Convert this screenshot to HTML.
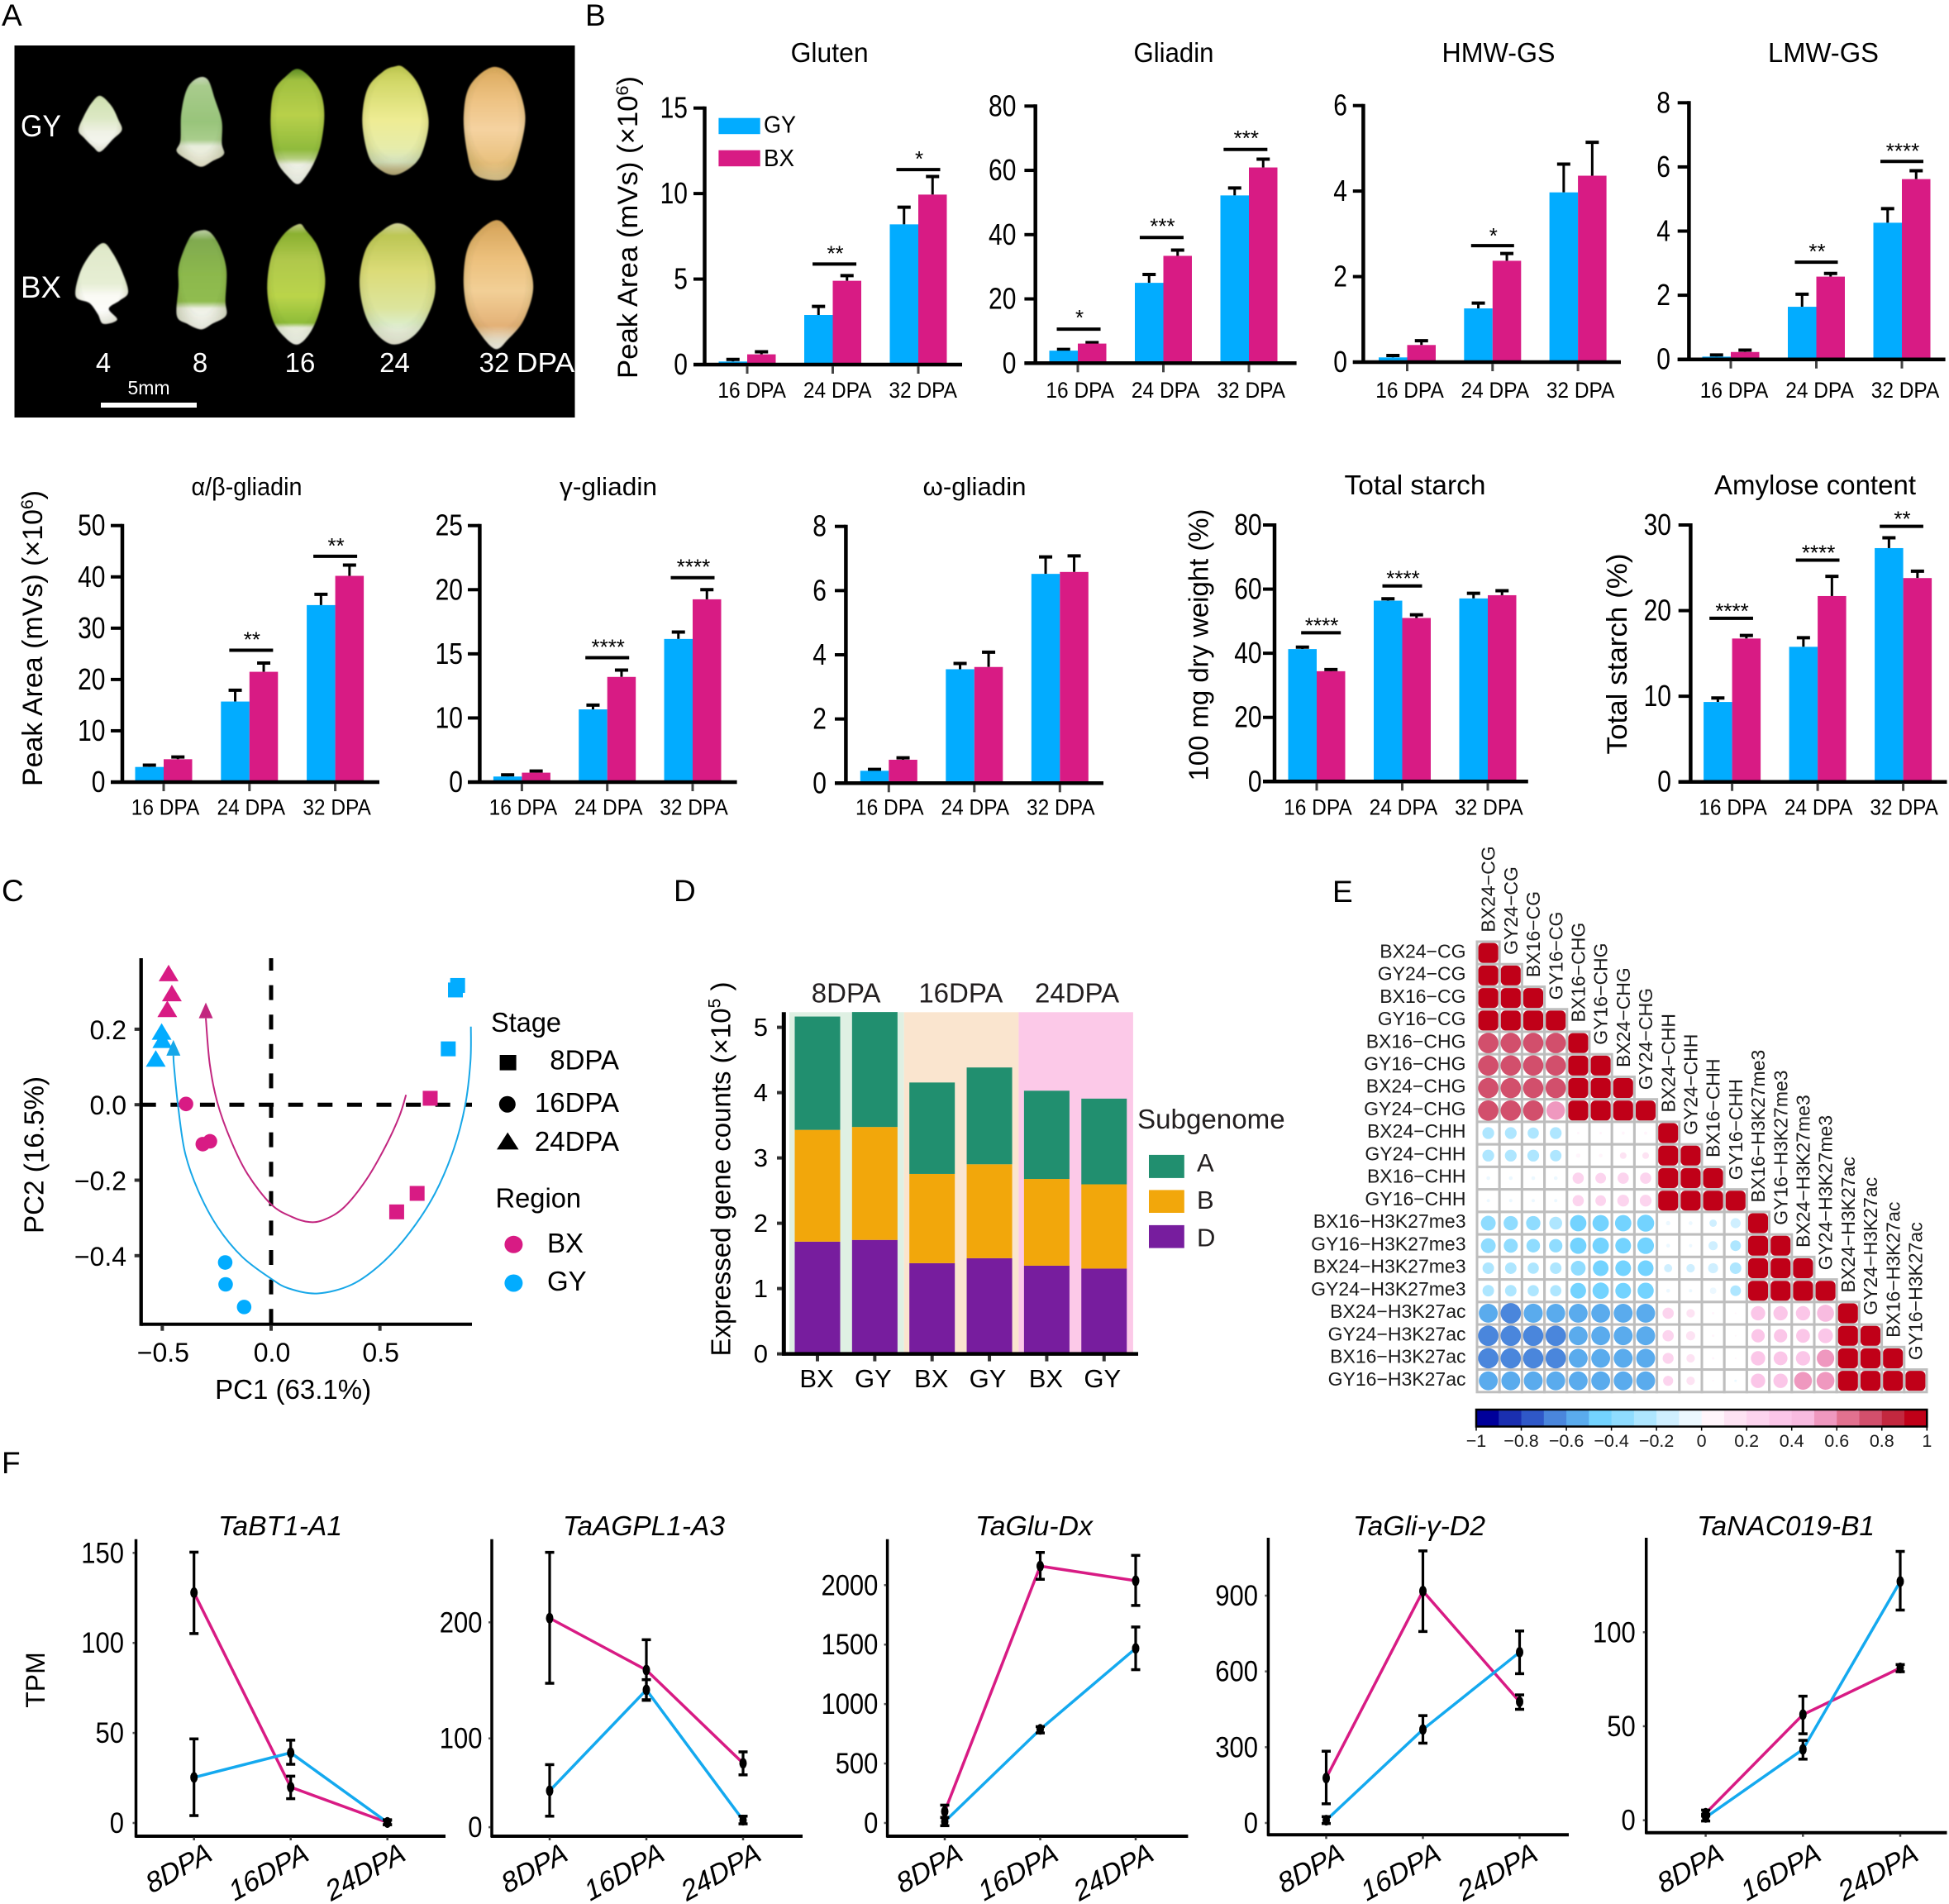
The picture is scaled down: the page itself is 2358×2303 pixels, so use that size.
<!DOCTYPE html>
<html lang="en">
<head>
<meta charset="utf-8">
<title>Wheat grain development multi-panel figure</title>
<style>
html,body{margin:0;padding:0;background:#fff;}
svg{display:block;font-family:"Liberation Sans",sans-serif;}
</style>
</head>
<body>
<svg id="figure" width="2358" height="2303" viewBox="0 0 2358 2303">
  <rect x="0" y="0" width="2358" height="2303" fill="#fff"/>

  <g font-size="37" fill="#000">
    <text x="2" y="31">A</text>
    <text x="708" y="31">B</text>
    <text x="2" y="1090">C</text>
    <text x="815" y="1090">D</text>
    <text x="1612" y="1091">E</text>
    <text x="2" y="1782">F</text>
  </g>

  <rect x="17.5" y="55" width="678" height="450" fill="#000"/>
  <g id="grains"></g>
  <g fill="#fff" font-size="35">
    <text transform="translate(25,165) scale(1,1.05)" textLength="49" lengthAdjust="spacingAndGlyphs">GY</text>
    <text transform="translate(25,360) scale(1,1.05)" textLength="49" lengthAdjust="spacingAndGlyphs">BX</text>
    <text x="125" y="450" text-anchor="middle" font-size="33">4</text>
    <text x="242" y="450" text-anchor="middle" font-size="33">8</text>
    <text x="363" y="450" text-anchor="middle" font-size="33">16</text>
    <text x="477.5" y="450" text-anchor="middle" font-size="33">24</text>
    <text x="598" y="450" text-anchor="middle" font-size="33">32</text>
    <text x="625" y="450" font-size="33" textLength="70" lengthAdjust="spacingAndGlyphs">DPA</text>
    <text x="180" y="477" text-anchor="middle" font-size="23">5mm</text>
    <rect x="122" y="487" width="116" height="6"/>
  </g>

  <g font-size="33" text-anchor="middle">
    <text x="1003.6" y="75" textLength="94" lengthAdjust="spacingAndGlyphs">Gluten</text>
    <text x="1420" y="75" textLength="97" lengthAdjust="spacingAndGlyphs">Gliadin</text>
    <text x="1813" y="75" textLength="137" lengthAdjust="spacingAndGlyphs">HMW-GS</text>
    <text x="2206" y="75" textLength="134" lengthAdjust="spacingAndGlyphs">LMW-GS</text>
    <text x="298.5" y="599" font-size="31" textLength="134" lengthAdjust="spacingAndGlyphs">α/β-gliadin</text>
    <text x="736" y="599" font-size="31" textLength="118" lengthAdjust="spacingAndGlyphs">γ-gliadin</text>
    <text x="1179" y="599" font-size="31" textLength="125" lengthAdjust="spacingAndGlyphs">ω-gliadin</text>
    <text x="1712" y="598" textLength="171" lengthAdjust="spacingAndGlyphs">Total starch</text>
    <text x="2196" y="598" textLength="244" lengthAdjust="spacingAndGlyphs">Amylose content</text>
  </g>

  <text transform="translate(771,275) rotate(-90)" text-anchor="middle" font-size="34" textLength="366" lengthAdjust="spacingAndGlyphs">Peak Area (mVs) (×10<tspan dy="-11" font-size="21">6</tspan><tspan dy="11">)</tspan></text>
  <text transform="translate(51,772) rotate(-90)" text-anchor="middle" font-size="34" textLength="358" lengthAdjust="spacingAndGlyphs">Peak Area (mVs) (×10<tspan dy="-11" font-size="21">6</tspan><tspan dy="11">)</tspan></text>
  <text transform="translate(1461.6,780) rotate(-90)" text-anchor="middle" font-size="33" textLength="329" lengthAdjust="spacingAndGlyphs">100 mg dry weight (%)</text>
  <text transform="translate(1968,791) rotate(-90)" text-anchor="middle" font-size="34" textLength="243" lengthAdjust="spacingAndGlyphs">Total starch (%)</text>

  <g>
    <rect x="869.4" y="142.7" width="50.3" height="19.5" fill="#02acff"/>
    <text x="924" y="160.7" font-size="29" textLength="39" lengthAdjust="spacingAndGlyphs">GY</text>
    <rect x="869.4" y="181.7" width="50.3" height="19.5" fill="#d81b84"/>
    <text x="924" y="201" font-size="29" textLength="37" lengthAdjust="spacingAndGlyphs">BX</text>
  </g>

  <g font-size="33">
    <text x="354.6" y="1692" text-anchor="middle" textLength="189" lengthAdjust="spacingAndGlyphs">PC1 (63.1%)</text>
    <text transform="translate(52.5,1397) rotate(-90)" text-anchor="middle" textLength="190" lengthAdjust="spacingAndGlyphs">PC2 (16.5%)</text>
    <text x="594" y="1248" textLength="85" lengthAdjust="spacingAndGlyphs">Stage</text>
    <text x="749" y="1293.7" text-anchor="end">8DPA</text>
    <text x="749" y="1345" text-anchor="end">16DPA</text>
    <text x="749" y="1392" text-anchor="end">24DPA</text>
    <text x="599.5" y="1460.6" textLength="103.6" lengthAdjust="spacingAndGlyphs">Region</text>
    <text x="662" y="1515">BX</text>
    <text x="662" y="1561">GY</text>
    <rect x="604.6" y="1276" width="20" height="18.6" fill="#000"/>
    <ellipse cx="613.8" cy="1335.7" rx="10" ry="10" fill="#000"/>
    <polygon points="601,1390.4 627.5,1390.4 614.2,1369.6" fill="#000"/>
    <ellipse cx="621.4" cy="1505.3" rx="11" ry="10.5" fill="#d81b84"/>
    <ellipse cx="621.4" cy="1552" rx="11" ry="10.5" fill="#02acff"/>
  </g>

  <g font-size="33">
    <text transform="translate(883.6,1414) rotate(-90)" text-anchor="middle" textLength="453" lengthAdjust="spacingAndGlyphs">Expressed gene counts (×10<tspan dy="-12" font-size="21">5</tspan><tspan dy="12"> )</tspan></text>
    <text x="1376" y="1365" fill="#231f20" textLength="178.7" lengthAdjust="spacingAndGlyphs">Subgenome</text>
    <rect x="1390" y="1396.9" width="42.8" height="28" fill="#218f6f"/>
    <rect x="1390" y="1439.4" width="42.8" height="27.6" fill="#f2a70b"/>
    <rect x="1390" y="1481.9" width="42.8" height="27.7" fill="#771d9e"/>
    <text x="1448" y="1417" font-size="31" fill="#231f20">A</text>
    <text x="1448" y="1462" font-size="31" fill="#231f20">B</text>
    <text x="1448" y="1507.5" font-size="31" fill="#231f20">D</text>
  </g>

  <g font-size="33" font-style="italic" text-anchor="middle">
    <text x="339" y="1857" textLength="150" lengthAdjust="spacingAndGlyphs">TaBT1-A1</text>
    <text x="779" y="1857" textLength="196" lengthAdjust="spacingAndGlyphs">TaAGPL1-A3</text>
    <text x="1251" y="1857" textLength="142" lengthAdjust="spacingAndGlyphs">TaGlu-Dx</text>
    <text x="1717" y="1857" textLength="160" lengthAdjust="spacingAndGlyphs">TaGli-γ-D2</text>
    <text x="2160.6" y="1857" textLength="215" lengthAdjust="spacingAndGlyphs">TaNAC019-B1</text>
    <text transform="translate(54,2032) rotate(-90)" font-style="normal" font-size="32">TPM</text>
  </g>

<script>
/* ---------- shared helpers ---------- */
const root = document.getElementById('figure');
const NS = root.namespaceURI;
function mk(tag, attrs, parent, text) {
  const el = document.createElementNS(NS, tag);
  for (const k in attrs) el.setAttribute(k, attrs[k]);
  if (text !== undefined) el.textContent = text;
  (parent || root).appendChild(el);
  return el;
}
const GY_COLOR = '#02acff';
const BX_COLOR = '#d81b84';

/* ---------- panel B data ---------- */
const barCategories = ['16 DPA', '24 DPA', '32 DPA'];

const glutenTicks = [0, 5, 10, 15];
const glutenGY = [0.18, 2.9, 8.2];
const glutenGYTop = [0.3, 3.4, 9.2];
const glutenBX = [0.6, 4.9, 9.94];
const glutenBXTop = [0.75, 5.2, 11];
const glutenSig = [{group: 1.02, level: 5.88, stars: '**'}, {group: 2, level: 11.4, stars: '*'}];

const gliadinTicks = [0, 20, 40, 60, 80];
const gliadinGY = [3.9, 25, 52.2];
const gliadinGYTop = [4.3, 27.6, 54.5];
const gliadinBX = [6.1, 33.4, 60.9];
const gliadinBXTop = [6.4, 35.2, 63.5];
const gliadinSig = [{group: 0.01, level: 10.6, stars: '*'}, {group: 0.98, level: 39.1, stars: '***'}, {group: 1.96, level: 66.5, stars: '***'}];

const hmwTicks = [0, 2, 4, 6];
const hmwGY = [0.11, 1.256, 3.97];
const hmwGYTop = [0.155, 1.38, 4.63];
const hmwBX = [0.4, 2.37, 4.36];
const hmwBXTop = [0.5, 2.54, 5.14];
const hmwSig = [{group: 1, level: 2.725, stars: '*'}];

const lmwTicks = [0, 2, 4, 6, 8];
const lmwGY = [0.086, 1.64, 4.26];
const lmwGYTop = [0.137, 2.03, 4.7];
const lmwBX = [0.23, 2.58, 5.62];
const lmwBXTop = [0.29, 2.68, 5.88];
const lmwSig = [{group: 1, level: 3.03, stars: '**'}, {group: 2, level: 6.17, stars: '****'}];

const alphaTicks = [0, 10, 20, 30, 40, 50];
const alphaGY = [2.95, 15.7, 34.5];
const alphaGYTop = [3.3, 17.9, 36.6];
const alphaBX = [4.46, 21.5, 40.2];
const alphaBXTop = [4.9, 23.2, 42.3];
const alphaSig = [{group: 1.02, level: 25.7, stars: '**'}, {group: 2, level: 44, stars: '**'}];

const gammaTicks = [0, 10, 15, 20, 25];
const gammaGY = [0.87, 10.67, 16.16];
const gammaGYTop = [1.13, 11, 16.7];
const gammaBX = [1.47, 13.2, 19.25];
const gammaBXTop = [1.73, 13.73, 20];
const gammaSig = [{group: 1, level: 14.7, stars: '****'}, {group: 2, level: 20.94, stars: '****'}];

const omegaTicks = [0, 2, 4, 6, 8];
const omegaGY = [0.386, 3.55, 6.52];
const omegaGYTop = [0.43, 3.73, 7.05];
const omegaBX = [0.73, 3.62, 6.58];
const omegaBXTop = [0.79, 4.08, 7.08];
const omegaSig = [];

const starchTicks = [0, 20, 40, 60, 80];
const starchGY = [41.3, 56.4, 57.1];
const starchGYTop = [41.9, 57, 58.7];
const starchBX = [34.4, 51, 58.1];
const starchBXTop = [34.9, 52, 59.5];
const starchSig = [{group: 0.05, level: 46.4, stars: '****'}, {group: 1, level: 61, stars: '****'}];

const amyloseTicks = [0, 10, 20, 30];
const amyloseGY = [9.33, 15.77, 27.3];
const amyloseGYTop = [9.8, 16.83, 28.5];
const amyloseBX = [16.74, 21.7, 23.8];
const amyloseBXTop = [17.1, 24, 24.6];
const amyloseSig = [{group: -0.01, level: 19.1, stars: '****'}, {group: 1, level: 25.9, stars: '****'}, {group: 1.98, level: 29.84, stars: '**'}];

/* ---------- panel C data ---------- */
const pcaXTicks = [-0.5, 0, 0.5];
const pcaYTicks = [-0.4, -0.2, 0, 0.2];
const bxTriangleX = [-0.471, -0.456, -0.477];
const bxTriangleY = [0.349, 0.296, 0.254];
const gyTriangleX = [-0.503, -0.5, -0.53];
const gyTriangleY = [0.194, 0.172, 0.1227];
const bxCircleX = [-0.391, -0.314, -0.281];
const bxCircleY = [0.002, -0.1045, -0.097];
const gyCircleX = [-0.211, -0.209, -0.124];
const gyCircleY = [-0.418, -0.476, -0.536];
const bxSquareX = [0.731, 0.671, 0.577];
const bxSquareY = [0.017, -0.235, -0.284];
const gySquareX = [0.857, 0.847, 0.814];
const gySquareY = [0.316, 0.304, 0.148];
const bxCurveX = [0.62, 0.589, 0.525, 0.437, 0.335, 0.247, 0.177, 0.095, 0, -0.108, -0.184, -0.247, -0.282, -0.3];
const bxCurveY = [0.026, -0.031, -0.111, -0.199, -0.272, -0.304, -0.311, -0.297, -0.264, -0.184, -0.096, 0.006, 0.108, 0.229];
const gyCurveX = [0.918, 0.916, 0.892, 0.839, 0.753, 0.639, 0.513, 0.373, 0.215, 0.082, 0, -0.133, -0.247, -0.335, -0.396, -0.428, -0.446, -0.449];
const gyCurveY = [0.207, 0.115, -0.001, -0.118, -0.235, -0.337, -0.418, -0.476, -0.5, -0.487, -0.461, -0.403, -0.323, -0.228, -0.126, -0.001, 0.101, 0.13];

/* ---------- panel D data ---------- */
const stackCategories = ['BX', 'GY', 'BX', 'GY', 'BX', 'GY'];
const stackStages = ['8DPA', '16DPA', '24DPA'];
const stackTicks = [0, 1, 2, 3, 4, 5];
const subgenomeD = [1.718, 1.745, 1.389, 1.465, 1.35, 1.306];
const subgenomeB = [1.712, 1.729, 1.366, 1.438, 1.328, 1.29];
const subgenomeA = [1.735, 1.76, 1.4, 1.482, 1.351, 1.312];

/* ---------- panel E data ---------- */
const corrLabels = ['BX24−CG', 'GY24−CG', 'BX16−CG', 'GY16−CG', 'BX16−CHG', 'GY16−CHG', 'BX24−CHG', 'GY24−CHG', 'BX24−CHH', 'GY24−CHH', 'BX16−CHH', 'GY16−CHH', 'BX16−H3K27me3', 'GY16−H3K27me3', 'BX24−H3K27me3', 'GY24−H3K27me3', 'BX24−H3K27ac', 'GY24−H3K27ac', 'BX16−H3K27ac', 'GY16−H3K27ac'];
const corrRows = [
  [1],
  [1, 1],
  [1, 1, 1],
  [1, 1, 1, 1],
  [0.72, 0.72, 0.72, 0.71, 1],
  [0.72, 0.72, 0.72, 0.71, 1, 1],
  [0.72, 0.72, 0.72, 0.71, 1, 1, 1],
  [0.72, 0.72, 0.72, 0.55, 1, 1, 1, 1],
  [-0.26, -0.26, -0.24, -0.26, 0.02, 0.02, 0.03, 0.03, 1],
  [-0.26, -0.26, -0.26, -0.25, 0.05, 0.04, 0.1, 0.1, 1, 1],
  [-0.04, -0.04, -0.04, -0.04, 0.24, 0.22, 0.24, 0.24, 1, 1, 1],
  [-0.03, -0.03, -0.03, -0.03, 0.24, 0.22, 0.26, 0.26, 1, 1, 1, 1],
  [-0.38, -0.36, -0.36, -0.3, -0.45, -0.45, -0.45, -0.48, -0.05, -0.04, -0.12, -0.2, 1],
  [-0.38, -0.35, -0.33, -0.32, -0.45, -0.45, -0.42, -0.46, -0.04, -0.03, -0.17, -0.22, 1, 1],
  [-0.25, -0.25, -0.24, -0.25, -0.38, -0.42, -0.42, -0.42, -0.14, -0.15, -0.2, -0.25, 1, 1, 1],
  [-0.25, -0.25, -0.24, -0.24, -0.42, -0.45, -0.42, -0.44, -0.04, -0.03, -0.1, -0.22, 1, 1, 1, 1],
  [-0.57, -0.66, -0.58, -0.57, -0.57, -0.57, -0.57, -0.57, 0.24, 0.15, 0.02, 0.01, 0.36, 0.36, 0.36, 0.48, 1],
  [-0.67, -0.66, -0.67, -0.68, -0.57, -0.57, -0.57, -0.57, 0.24, 0.17, 0.02, 0.01, 0.32, 0.32, 0.34, 0.38, 1, 1],
  [-0.67, -0.66, -0.67, -0.68, -0.57, -0.57, -0.57, -0.57, 0.23, 0.15, 0.02, 0.01, 0.36, 0.34, 0.36, 0.5, 1, 1, 1],
  [-0.57, -0.57, -0.57, -0.57, -0.57, -0.57, -0.57, -0.57, 0.2, 0.15, 0.01, -0.02, 0.36, 0.36, 0.52, 0.52, 1, 1, 1, 1]
];
const colorbarTicks = [-1, -0.8, -0.6, -0.4, -0.2, 0, 0.2, 0.4, 0.6, 0.8, 1];
const corrColors = ['#00009a', '#1a2fb0', '#2f58c8', '#4a86dc', '#5aabed', '#73d3ff', '#8fdcff', '#aee6ff', '#cfefff', '#ecf8ff', '#fff5fb', '#fde3f3', '#fcd4ee', '#fbc6e8', '#f8bbe0', '#ef98bf', '#e2718f', '#d24f6c', '#c3283f', '#c00018'];

/* ---------- panel F data ---------- */
const lineCategories = ['8DPA', '16DPA', '24DPA'];

const bt1Ticks = [0, 50, 100, 150];
const bt1Labels = ['0', '50', '100', '150'];
const bt1BX = [127.9, 19.9, 0.3];
const bt1BXHi = [150.4, 26, 1.8];
const bt1BXLo = [105.2, 13.5, -1];
const bt1GY = [25.3, 39, 0.3];
const bt1GYHi = [46.7, 46, 1.5];
const bt1GYLo = [4.1, 32.6, -0.9];

const agplTicks = [23.5, 100, 200];
const agplLabels = ['0', '100', '200'];
const agplBX = [203.6, 158.9, 78.6];
const agplBXHi = [260.3, 185, 88.4];
const agplBXLo = [147.5, 132.8, 68.6];
const agplGY = [54.9, 141.8, 29.5];
const agplGYHi = [77.4, 150.6, 33];
const agplGYLo = [33, 133.3, 26.4];

const gluTicks = [0, 500, 1000, 1500, 2000];
const gluLabels = ['0', '500', '1000', '1500', '2000'];
const gluBX = [97, 2160, 2037];
const gluBXHi = [150, 2275, 2250];
const gluBXLo = [46, 2049, 1829];
const gluGY = [12, 787, 1468];
const gluGYHi = [46, 810, 1648];
const gluGYLo = [-23, 757, 1289];

const gliTicks = [0, 300, 600, 900];
const gliLabels = ['0', '300', '600', '900'];
const gliBX = [178, 918, 480];
const gliBXHi = [284, 1077, 507];
const gliBXLo = [76, 758, 450];
const gliGY = [11, 370, 676];
const gliGYHi = [25, 425, 760];
const gliGYLo = [-2, 316, 591];

const nacTicks = [0, 50, 100];
const nacLabels = ['0', '50', '100'];
const nacBX = [3.7, 56.2, 81];
const nacBXHi = [5.4, 66, 82.8];
const nacBXLo = [2.2, 46, 79];
const nacGY = [1.5, 37.7, 127];
const nacGYHi = [3.2, 42.5, 143];
const nacGYLo = [-0.4, 32.5, 111.8];

/* ---------- smooth path helper ---------- */
function catmull(pts, closed) {
  const n = pts.length;
  const at = function (i) {
    if (closed) return pts[(i + n) % n];
    return pts[Math.max(0, Math.min(n - 1, i))];
  };
  let d = 'M' + pts[0][0] + ',' + pts[0][1];
  const segs = closed ? n : n - 1;
  for (let i = 0; i < segs; i++) {
    const p0 = at(i - 1), p1 = at(i), p2 = at(i + 1), p3 = at(i + 2);
    d += ' C' + (p1[0] + (p2[0] - p0[0]) / 6) + ',' + (p1[1] + (p2[1] - p0[1]) / 6) + ' ' +
      (p2[0] - (p3[0] - p1[0]) / 6) + ',' + (p2[1] - (p3[1] - p1[1]) / 6) + ' ' + p2[0] + ',' + p2[1];
  }
  return closed ? d + 'Z' : d;
}

/* ---------- panel A: grain photo approximated with gradients ---------- */
const grainParent = document.getElementById('grains');
const grainDefs = mk('defs', {}, grainParent);
const edgeShade = mk('radialGradient', {id: 'grain-edge', cx: '0.5', cy: '0.45', r: '0.62'}, grainDefs);
mk('stop', {offset: '0.62', 'stop-color': '#3c4600', 'stop-opacity': '0'}, edgeShade);
mk('stop', {offset: '1', 'stop-color': '#3c4600', 'stop-opacity': '0.22'}, edgeShade);
const soften = mk('filter', {id: 'grain-soft', x: '-5%', y: '-5%', width: '110%', height: '110%'}, grainDefs);
mk('feGaussianBlur', {stdDeviation: '0.7'}, soften);
let grainCount = 0;
const crop = function (pts) { return pts.map(function (p) { return [80 + p[0] / 3, 70 + p[1] / 3]; }); };
function drawGrain(name, outline, stops) {
  const id = 'grain-grad-' + (grainCount++);
  const grad = mk('linearGradient', {id: id, x1: '0', y1: '0', x2: '0', y2: '1'}, grainDefs);
  stops.forEach(function (s) { mk('stop', {offset: s[0], 'stop-color': s[1]}, grad); });
  const d = catmull(outline, true);
  const body = mk('path', {d: d, fill: 'url(#' + id + ')', filter: 'url(#grain-soft)'}, grainParent);
  
  
  const shade = mk('path', {d: d, fill: 'url(#grain-edge)', filter: 'url(#grain-soft)'}, grainParent);
  
  
}
drawGrain('grain-gy-4', crop([[125,138],[165,175],[190,225],[202,262],[170,295],[125,340],[100,325],[65,290],[45,262],[65,210],[95,160]]),
  [[0, '#cfe0b0'], [0.4, '#dce8c4'], [0.65, '#f0f2e6'], [1, '#f8f8f4']]);
drawGrain('grain-gy-8', crop([[480,72],[515,80],[540,150],[565,230],[565,310],[572,350],[530,375],[490,395],[450,375],[402,340],[415,300],[418,200],[440,110]]),
  [[0, '#d0dcc0'], [0.1, '#a8cb8c'], [0.5, '#98c47a'], [0.7, '#a9cd8c'], [0.77, '#e8eddc'], [1, '#f4f0e0']]);
drawGrain('grain-gy-16', crop([[840,40],[885,70],[925,130],[937,210],[925,310],[900,380],[870,430],[840,458],[805,430],[770,385],[750,320],[742,220],[755,120],[800,65]]),
  [[0, '#5f8f26'], [0.1, '#a0c040'], [0.4, '#b8d04a'], [0.7, '#8fba3c'], [0.78, '#b6cf80'], [0.83, '#eef0e4'], [1, '#ffffff']]);
drawGrain('grain-gy-24', crop([[1190,32],[1225,35],[1280,100],[1315,220],[1300,320],[1265,385],[1190,425],[1120,390],[1090,330],[1075,220],[1095,110],[1150,50]]),
  [[0, '#c0c850'], [0.15, '#d2d868'], [0.5, '#eeec94'], [0.75, '#e6ecaa'], [0.88, '#d8e4c0'], [0.95, '#c9bd92'], [1, '#b8ac80']]);
drawGrain('grain-gy-32', [[597,81],[622,97],[635.4,140],[627,187],[615,213],[597,218],[574,210],[565,183],[561,140],[569,103]],
  [[0, '#dba95c'], [0.3, '#eec384'], [0.55, '#f5d2a0'], [0.85, '#e8c07c'], [1, '#e4cc9c']]);
drawGrain('grain-bx-4', crop([[135,672],[170,710],[205,780],[225,850],[195,880],[155,910],[185,950],[135,965],[115,930],[85,890],[35,865],[50,780],[90,710]]),
  [[0, '#dfe8c8'], [0.5, '#e6eed4'], [0.65, '#fafaf4'], [1, '#ffffff']]);
drawGrain('grain-bx-8', crop([[490,626],[525,635],[560,690],[582,770],[578,880],[580,935],[530,965],[490,985],[440,965],[402,935],[408,830],[410,750],[450,650]]),
  [[0, '#c4d6ae'], [0.1, '#80aa50'], [0.45, '#8cb84c'], [0.72, '#90bc50'], [0.79, '#eef0e4'], [1, '#ffffff']]);
drawGrain('grain-bx-16', crop([[845,603],[870,625],[915,690],[940,800],[925,900],[890,990],[840,1040],[790,1010],[750,950],[730,840],[745,720],[790,640]]),
  [[0, '#c8d08c'], [0.08, '#8ab030'], [0.3, '#b0c84c'], [0.6, '#bad44a'], [0.82, '#8ebc38'], [0.86, '#ebf0e0'], [1, '#ffffff']]);
drawGrain('grain-bx-24', crop([[1205,600],[1260,630],[1320,720],[1340,840],[1310,940],[1260,1010],[1190,1040],[1130,1005],[1085,930],[1065,810],[1090,690],[1150,625]]),
  [[0, '#d6d8a0'], [0.1, '#bcc654'], [0.4, '#dcdc78'], [0.7, '#dce49c'], [0.82, '#dcecc4'], [0.88, '#e8f0dc'], [1, '#f4f2e8']]);
drawGrain('grain-bx-32', [[597,267],[615,277],[638,317],[645,350],[633.6,387],[615,410],[599,422],[578.5,400],[565,373],[561,333],[569,293]],
  [[0, '#d4a258'], [0.3, '#ecc07c'], [0.55, '#f2cf96'], [0.82, '#e3b177'], [0.92, '#f0e4d0'], [1, '#ffffff']]);

/* ---------- panel B: grouped bar charts ---------- */
function drawBarChart(cfg) {
  const g = mk('g', {});
  
  
  const n = cfg.ticks.length - 1;
  const yOf = function (v) {
    let i = 0;
    while (i < n - 1 && v > cfg.ticks[i + 1]) i++;
    const frac = i + (v - cfg.ticks[i]) / (cfg.ticks[i + 1] - cfg.ticks[i]);
    return cfg.yZero - (cfg.yZero - cfg.yTop) * frac / n;
  };
  const xOf = function (i) { return cfg.x0 + i * cfg.dx; };
  const barW = 34.5;

  [[cfg.gy, cfg.gyTop, GY_COLOR, 'gy', -barW], [cfg.bx, cfg.bxTop, BX_COLOR, 'bx', 0]].forEach(function (s) {
    s[0].forEach(function (v, i) {
      const cx = xOf(i) + s[4] + barW / 2;
      const stem = mk('line', {x1: cx, x2: cx, y1: yOf(v), y2: yOf(s[1][i]), stroke: '#000', 'stroke-width': 3}, g);
      
      
      const cap = mk('line', {x1: cx - 8, x2: cx + 8, y1: yOf(s[1][i]), y2: yOf(s[1][i]), stroke: '#000', 'stroke-width': 4}, g);
      
      
      const bar = mk('rect', {x: xOf(i) + s[4], y: yOf(v), width: barW, height: cfg.yZero - yOf(v), fill: s[2]}, g);
      
      
    });
  });

  const yAxis = mk('line', {x1: cfg.axisX, x2: cfg.axisX, y1: cfg.yTop - 2, y2: cfg.yZero + 2, stroke: '#000', 'stroke-width': 4.5}, g);
  
  
  const xAxis = mk('line', {x1: cfg.tickLeft, x2: cfg.axisEnd, y1: cfg.yZero, y2: cfg.yZero, stroke: '#000', 'stroke-width': 4.5}, g);
  
  

  cfg.ticks.forEach(function (t) {
    const tick = mk('line', {x1: cfg.tickLeft, x2: cfg.axisX, y1: yOf(t), y2: yOf(t), stroke: '#000', 'stroke-width': 4}, g);
    
    
    const label = mk('text', {transform: 'translate(' + cfg.labelRight + ',' + (yOf(t) + 12) + ') scale(1,1.2)', 'text-anchor': 'end', 'font-size': 30}, g, String(t));
    
    
  });

  barCategories.forEach(function (c, i) {
    const tick = mk('line', {x1: xOf(i), x2: xOf(i), y1: cfg.yZero + 2, y2: cfg.yZero + 11, stroke: '#444', 'stroke-width': 3}, g);
    
    
    const label = mk('text', {transform: 'translate(' + (xOf(i) + cfg.labelShift - 1) + ',' + cfg.labelBase + ') scale(1,1.08)', 'text-anchor': 'middle', 'font-size': 24.5}, g, c);
    
    
  });

  cfg.sig.forEach(function (s) {
    const cx = xOf(s.group);
    const line = mk('line', {x1: cx - cfg.sigHalf, x2: cx + cfg.sigHalf, y1: yOf(s.level), y2: yOf(s.level), stroke: '#000', 'stroke-width': 4}, g);
    
    
    const star = mk('text', {x: cx + 1, y: yOf(s.level) - cfg.starGap + 15, 'text-anchor': 'middle', 'font-size': 26}, g, s.stars);
    
    
  });
}

drawBarChart({name: 'chart-gluten', ticks: glutenTicks, gy: glutenGY, gyTop: glutenGYTop, bx: glutenBX, bxTop: glutenBXTop, sig: glutenSig,
  axisX: 852.5, tickLeft: 839, yZero: 441, yTop: 130.7, axisEnd: 1164, x0: 904, dx: 103.5, labelRight: 832, labelBase: 481, labelShift: 6.7, starGap: 19, sigHalf: 26.5});
drawBarChart({name: 'chart-gliadin', ticks: gliadinTicks, gy: gliadinGY, gyTop: gliadinGYTop, bx: gliadinBX, bxTop: gliadinBXTop, sig: gliadinSig,
  axisX: 1252.7, tickLeft: 1239.4, yZero: 439.3, yTop: 128.3, axisEnd: 1568.6, x0: 1304, dx: 103.5, labelRight: 1229.4, labelBase: 481, labelShift: 3.7, starGap: 20, sigHalf: 26.5});
drawBarChart({name: 'chart-hmw-gs', ticks: hmwTicks, gy: hmwGY, gyTop: hmwGYTop, bx: hmwBX, bxTop: hmwBXTop, sig: hmwSig,
  axisX: 1649.4, tickLeft: 1636.8, yZero: 438, yTop: 127.7, axisEnd: 1961, x0: 1702.5, dx: 103.3, labelRight: 1630, labelBase: 481, labelShift: 4, starGap: 18, sigHalf: 26});
drawBarChart({name: 'chart-lmw-gs', ticks: lmwTicks, gy: lmwGY, gyTop: lmwGYTop, bx: lmwBX, bxTop: lmwBXTop, sig: lmwSig,
  axisX: 2043.4, tickLeft: 2029.7, yZero: 434.7, yTop: 124.3, axisEnd: 2353.6, x0: 2094, dx: 103.5, labelRight: 2021, labelBase: 481, labelShift: 5, starGap: 19, sigHalf: 26});
drawBarChart({name: 'chart-alpha-beta-gliadin', ticks: alphaTicks, gy: alphaGY, gyTop: alphaGYTop, bx: alphaBX, bxTop: alphaBXTop, sig: alphaSig,
  axisX: 148, tickLeft: 134, yZero: 946, yTop: 635.7, axisEnd: 459, x0: 198, dx: 103.8, labelRight: 127.5, labelBase: 985.7, labelShift: 3, starGap: 19, sigHalf: 26.5});
drawBarChart({name: 'chart-gamma-gliadin', ticks: gammaTicks, gy: gammaGY, gyTop: gammaGYTop, bx: gammaBX, bxTop: gammaBXTop, sig: gammaSig,
  axisX: 580.4, tickLeft: 566, yZero: 946, yTop: 635.7, axisEnd: 891.6, x0: 631.4, dx: 103.3, labelRight: 560, labelBase: 985.7, labelShift: 2.5, starGap: 19, sigHalf: 26.5});
drawBarChart({name: 'chart-omega-gliadin', ticks: omegaTicks, gy: omegaGY, gyTop: omegaGYTop, bx: omegaBX, bxTop: omegaBXTop, sig: omegaSig,
  axisX: 1023.4, tickLeft: 1010, yZero: 947.3, yTop: 636.7, axisEnd: 1335, x0: 1075.3, dx: 103.5, labelRight: 1000, labelBase: 985.7, labelShift: 2, starGap: 19, sigHalf: 26});
drawBarChart({name: 'chart-total-starch', ticks: starchTicks, gy: starchGY, gyTop: starchGYTop, bx: starchBX, bxTop: starchBXTop, sig: starchSig,
  axisX: 1542, tickLeft: 1528, yZero: 945.3, yTop: 635, axisEnd: 1848.8, x0: 1593, dx: 103.5, labelRight: 1526.6, labelBase: 985.7, labelShift: 2.4, starGap: 15, sigHalf: 24});
drawBarChart({name: 'chart-amylose-content', ticks: amyloseTicks, gy: amyloseGY, gyTop: amyloseGYTop, bx: amyloseBX, bxTop: amyloseBXTop, sig: amyloseSig,
  axisX: 2045.4, tickLeft: 2030.7, yZero: 945.7, yTop: 635, axisEnd: 2355.5, x0: 2095.6, dx: 103.5, labelRight: 2022, labelBase: 985.7, labelShift: 2, starGap: 15, sigHalf: 26.4});

/* ---------- panel C: PCA scatter ---------- */
(function drawPca() {
  const g = mk('g', {});
  
  
  const xOf = function (v) { return 328 + 263.3 * v; };
  const yOf = function (v) { return 1336.2 - 456.5 * v; };
  const axisLeft = 170.7, axisBottom = 1601.7, axisRight = 571, axisTop = 1159;

  const vDash = mk('line', {x1: xOf(0), x2: xOf(0), y1: axisTop, y2: axisBottom, stroke: '#000', 'stroke-width': 5, 'stroke-dasharray': '18 17.6', 'stroke-dashoffset': 3}, g);
  
  
  const hDash = mk('line', {x1: axisLeft, x2: axisRight, y1: yOf(0), y2: yOf(0), stroke: '#000', 'stroke-width': 5, 'stroke-dasharray': '18 17.6'}, g);
  
  

  const yAxis = mk('line', {x1: axisLeft, x2: axisLeft, y1: axisTop, y2: axisBottom + 2, stroke: '#000', 'stroke-width': 4.3}, g);
  
  
  const xAxis = mk('line', {x1: axisLeft, x2: axisRight, y1: axisBottom, y2: axisBottom, stroke: '#000', 'stroke-width': 4}, g);
  
  

  pcaXTicks.forEach(function (t) {
    const tick = mk('line', {x1: xOf(t), x2: xOf(t), y1: axisBottom + 2, y2: axisBottom + 8, stroke: '#333', 'stroke-width': 4}, g);
    
    
    const label = mk('text', {x: xOf(t) + 1, y: 1647, 'text-anchor': 'middle', 'font-size': 32}, g, t.toFixed(1).replace('-', '−'));
    
    
  });
  pcaYTicks.forEach(function (t) {
    const tick = mk('line', {x1: axisLeft - 8, x2: axisLeft - 2, y1: yOf(t), y2: yOf(t), stroke: '#333', 'stroke-width': 4}, g);
    
    
    const label = mk('text', {x: 153, y: yOf(t) + 12, 'text-anchor': 'end', 'font-size': 32}, g, t.toFixed(1).replace('-', '−'));
    
    
  });

  [[bxCurveX, bxCurveY, '#c2267f', 'bx'], [gyCurveX, gyCurveY, '#17a7e8', 'gy']].forEach(function (s) {
    const pts = s[0].map(function (x, i) { return [xOf(x), yOf(s[1][i])]; });
    const curve = mk('path', {d: catmull(pts, false), fill: 'none', stroke: s[2], 'stroke-width': 2}, g);
    
    
    const ex = pts[pts.length - 1][0], ey = pts[pts.length - 1][1];
    const arrow = mk('polygon', {points: (ex - 8.5) + ',' + ey + ' ' + (ex + 8.5) + ',' + ey + ' ' + ex + ',' + (ey - 19), fill: s[2]}, g);
    
    
  });

  function triangles(xs, ys, color, name) {
    xs.forEach(function (x, i) {
      const px = xOf(x), py = yOf(ys[i]);
      const mark = mk('polygon', {points: (px - 12) + ',' + (py + 10) + ' ' + (px + 12) + ',' + (py + 10) + ' ' + px + ',' + (py - 10), fill: color}, g);
      
      
    });
  }
  function circles(xs, ys, color, name) {
    xs.forEach(function (x, i) {
      const mark = mk('ellipse', {cx: xOf(x), cy: yOf(ys[i]), rx: 8.8, ry: 8.8, fill: color}, g);
      
      
    });
  }
  function squares(xs, ys, color, name) {
    xs.forEach(function (x, i) {
      const mark = mk('rect', {x: xOf(x) - 9, y: yOf(ys[i]) - 9, width: 18, height: 18, fill: color}, g);
      
      
    });
  }
  triangles(bxTriangleX, bxTriangleY, BX_COLOR, 'point-bx-24dpa');
  triangles(gyTriangleX, gyTriangleY, GY_COLOR, 'point-gy-24dpa');
  circles(bxCircleX, bxCircleY, BX_COLOR, 'point-bx-16dpa');
  circles(gyCircleX, gyCircleY, GY_COLOR, 'point-gy-16dpa');
  squares(bxSquareX, bxSquareY, BX_COLOR, 'point-bx-8dpa');
  squares(gySquareX, gySquareY, GY_COLOR, 'point-gy-8dpa');
})();

/* ---------- panel D: stacked bars ---------- */
(function drawStack() {
  const g = mk('g', {});
  
  
  const yZero = 1637.6, unit = 79, x0 = 989, dx = 69.35, barW = 55, top = 1224.3;
  const yOf = function (v) { return yZero - unit * v; };
  const xOf = function (i) { return x0 + dx * i; };
  const bgColors = ['#dff0e3', '#fae5cf', '#fcc9e8'];
  stackStages.forEach(function (s, i) {
    const band = mk('rect', {x: xOf(i * 2) - 34, y: top, width: dx * 2 + (i === 2 ? -0.2 : 0), height: yZero - top, fill: bgColors[i]}, g);
    
    
    const label = mk('text', {x: xOf(i * 2) + dx / 2 + (i === 2 ? 2 : 0), y: 1212.6, 'text-anchor': 'middle', 'font-size': 33, fill: '#231f20'}, g, s);
    
    
  });
  stackCategories.forEach(function (c, i) {
    let base = 0;
    [[subgenomeD, '#771d9e', 'd'], [subgenomeB, '#f2a70b', 'b'], [subgenomeA, '#218f6f', 'a']].forEach(function (s) {
      const v = s[0][i];
      const seg = mk('rect', {x: xOf(i) - barW / 2, y: yOf(base + v), width: barW, height: unit * v, fill: s[1]}, g);
      
      
      base += v;
    });
    const tick = mk('line', {x1: xOf(i), x2: xOf(i), y1: yZero + 2, y2: yZero + 9, stroke: '#333', 'stroke-width': 4}, g);
    
    
    const label = mk('text', {x: xOf(i) - 1 - (i % 2), y: 1678, 'text-anchor': 'middle', 'font-size': 31}, g, c);
    
    
  });
  const yAxis = mk('line', {x1: 948.3, x2: 948.3, y1: top, y2: yZero + 2, stroke: '#000', 'stroke-width': 5}, g);
  
  
  const xAxis = mk('line', {x1: 946, x2: 1377, y1: yZero, y2: yZero, stroke: '#000', 'stroke-width': 4.5}, g);
  
  
  stackTicks.forEach(function (t) {
    const tick = mk('line', {x1: 940, x2: 946, y1: yOf(t), y2: yOf(t), stroke: '#333', 'stroke-width': 4}, g);
    
    
    const label = mk('text', {x: 929, y: yOf(t) + 10.5, 'text-anchor': 'end', 'font-size': 31}, g, String(t));
    
    
  });
})();

/* ---------- panel E: correlation matrix ---------- */
(function drawCorr() {
  const g = mk('g', {});
  
  
  const x0 = 1787, y0 = 1139, cw = 27.2, ch = 27.24;
  const colorOf = function (v) { return corrColors[Math.min(19, Math.floor((v + 1) * 10))]; };
  corrRows.forEach(function (row, r) {
    const rowLabel = mk('text', {x: 1773.5, y: y0 + ch * r + 19.3, 'text-anchor': 'end', 'font-size': 23, fill: '#1a1a1a'}, g, corrLabels[r]);
    
    
    const colLabel = mk('text', {transform: 'translate(' + (x0 + cw * r + 21.7) + ',' + (y0 + ch * r - 11.4) + ') rotate(-90)', 'font-size': 23, fill: '#1a1a1a'}, g, corrLabels[r]);
    
    
    row.forEach(function (v, c) {
      const x = x0 + cw * c, y = y0 + ch * r;
      const cell = mk('rect', {x: x, y: y, width: cw, height: ch, fill: '#fff', stroke: '#bebebe', 'stroke-width': 3}, g);
      
      
    });
  });
  corrRows.forEach(function (row, r) {
    row.forEach(function (v, c) {
      const x = x0 + cw * c, y = y0 + ch * r;
      let mark;
      if (Math.abs(v) >= 0.95) {
        mark = mk('rect', {x: x + cw / 2 - 12, y: y + ch / 2 - 12, width: 24, height: 24, rx: 5.5, ry: 5.5, fill: colorOf(v)}, g);
      } else {
        mark = mk('circle', {cx: x + cw / 2, cy: y + ch / 2, r: Math.min(12.3, 16 * Math.pow(Math.abs(v), 0.6)), fill: colorOf(v)}, g);
      }
      
      
    });
  });
  const barX = 1786, barW = 545.3, barY = 1705, barH = 20.5;
  corrColors.forEach(function (col, i) {
    const step = mk('rect', {x: barX + barW * i / 20, y: barY, width: barW / 20 + 0.5, height: barH, fill: col}, g);
    
    
  });
  const frame = mk('rect', {x: barX, y: barY, width: barW, height: barH, fill: 'none', stroke: '#000', 'stroke-width': 2.5}, g);
  
  
  colorbarTicks.forEach(function (t) {
    const px = barX + barW * (t + 1) / 2;
    const tick = mk('line', {x1: px, x2: px, y1: barY + barH, y2: barY + barH + 5, stroke: '#000', 'stroke-width': 1.5}, g);
    
    
    const label = mk('text', {x: px, y: 1750, 'text-anchor': 'middle', 'font-size': 21.5, fill: '#1a1a1a'}, g, String(t).replace('-', '−'));
    
    
  });
})();

/* ---------- panel F: line charts ---------- */
function drawLineChart(cfg) {
  const g = mk('g', {});
  
  
  const yOf = function (v) { return cfg.y1 + (v - cfg.v1) * (cfg.y2 - cfg.y1) / (cfg.v2 - cfg.v1); };
  const xOf = function (i) { return cfg.x0 + cfg.dx * i; };
  const yAxis = mk('line', {x1: cfg.axisX, x2: cfg.axisX, y1: cfg.axisTop, y2: cfg.axisBottom + 1.5, stroke: '#000', 'stroke-width': 3.5}, g);
  
  
  const xAxis = mk('line', {x1: cfg.axisX - 1, x2: cfg.axisEnd, y1: cfg.axisBottom, y2: cfg.axisBottom, stroke: '#000', 'stroke-width': 4}, g);
  
  
  cfg.ticks.forEach(function (t, i) {
    const tick = mk('line', {x1: cfg.axisX - 4, x2: cfg.axisX - 1.5, y1: yOf(t), y2: yOf(t), stroke: '#555', 'stroke-width': 2.5}, g);
    
    
    const label = mk('text', {transform: 'translate(' + cfg.labelRight + ',' + (yOf(t) + 12) + ') scale(1,1.15)', 'text-anchor': 'end', 'font-size': 31}, g, cfg.labels[i]);
    
    
  });
  lineCategories.forEach(function (c, i) {
    const tick = mk('line', {x1: xOf(i), x2: xOf(i), y1: cfg.axisBottom + 1.5, y2: cfg.axisBottom + 5, stroke: '#444', 'stroke-width': 2.5}, g);
    
    
    const label = mk('text', {transform: 'translate(' + (xOf(i) + 24) + ',2249) rotate(-29) skewX(-4)', 'text-anchor': 'end', 'font-size': 34, 'font-style': 'italic'}, g, c);
    
    
  });
  [[cfg.bx, BX_COLOR, 'bx'], [cfg.gy, '#14a9ef', 'gy']].forEach(function (s) {
    const pts = s[0].map(function (v, i) { return xOf(i) + ',' + yOf(v); }).join(' ');
    const line = mk('polyline', {points: pts, fill: 'none', stroke: s[1], 'stroke-width': 3.5}, g);
    
    
  });
  [[cfg.bx, cfg.bxHi, cfg.bxLo, 'bx'], [cfg.gy, cfg.gyHi, cfg.gyLo, 'gy']].forEach(function (s) {
    s[0].forEach(function (v, i) {
      const px = xOf(i);
      const stem = mk('line', {x1: px, x2: px, y1: yOf(s[1][i]), y2: yOf(s[2][i]), stroke: '#000', 'stroke-width': 3.2}, g);
      
      
      const capHi = mk('line', {x1: px - 5.5, x2: px + 5.5, y1: yOf(s[1][i]), y2: yOf(s[1][i]), stroke: '#000', 'stroke-width': 3.5}, g);
      
      
      const capLo = mk('line', {x1: px - 5.5, x2: px + 5.5, y1: yOf(s[2][i]), y2: yOf(s[2][i]), stroke: '#000', 'stroke-width': 3.5}, g);
      
      
      const dot = mk('ellipse', {cx: px, cy: yOf(v), rx: 4.5, ry: 6.5, fill: '#000'}, g);
      
      
    });
  });
}
drawLineChart({name: 'chart-tabt1-a1', ticks: bt1Ticks, labels: bt1Labels, bx: bt1BX, bxHi: bt1BXHi, bxLo: bt1BXLo, gy: bt1GY, gyHi: bt1GYHi, gyLo: bt1GYLo,
  axisX: 164.5, axisTop: 1861.7, axisBottom: 2221, axisEnd: 539, x0: 234.7, dx: 117, v1: 0, y1: 2205, v2: 150, y2: 1878.3, labelRight: 150});
drawLineChart({name: 'chart-taagpl1-a3', ticks: agplTicks, labels: agplLabels, bx: agplBX, bxHi: agplBXHi, bxLo: agplBXLo, gy: agplGY, gyHi: agplGYHi, gyLo: agplGYLo,
  axisX: 595, axisTop: 1861.7, axisBottom: 2221, axisEnd: 971, x0: 665, dx: 117, v1: 100, y1: 2102.7, v2: 200, y2: 1962.3, labelRight: 583.5});
drawLineChart({name: 'chart-taglu-dx', ticks: gluTicks, labels: gluLabels, bx: gluBX, bxHi: gluBXHi, bxLo: gluBXLo, gy: gluGY, gyHi: gluGYHi, gyLo: gluGYLo,
  axisX: 1073.6, axisTop: 1861.7, axisBottom: 2221, axisEnd: 1437.4, x0: 1143, dx: 115.5, v1: 0, y1: 2205, v2: 2000, y2: 1917.3, labelRight: 1062.4});
drawLineChart({name: 'chart-tagli-gamma-d2', ticks: gliTicks, labels: gliLabels, bx: gliBX, bxHi: gliBXHi, bxLo: gliBXLo, gy: gliGY, gyHi: gliGYHi, gyLo: gliGYLo,
  axisX: 1534.4, axisTop: 1860, axisBottom: 2219.3, axisEnd: 1898, x0: 1604.5, dx: 117, v1: 0, y1: 2205, v2: 900, y2: 1930, labelRight: 1522});
drawLineChart({name: 'chart-tanac019-b1', ticks: nacTicks, labels: nacLabels, bx: nacBX, bxHi: nacBXHi, bxLo: nacBXLo, gy: nacGY, gyHi: nacGYHi, gyLo: nacGYLo,
  axisX: 1991.7, axisTop: 1860, axisBottom: 2216.7, axisEnd: 2355.5, x0: 2063.6, dx: 117.7, v1: 0, y1: 2201.7, v2: 100, y2: 1974.3, labelRight: 1978.7});
</script>
</svg>
</body>
</html>
